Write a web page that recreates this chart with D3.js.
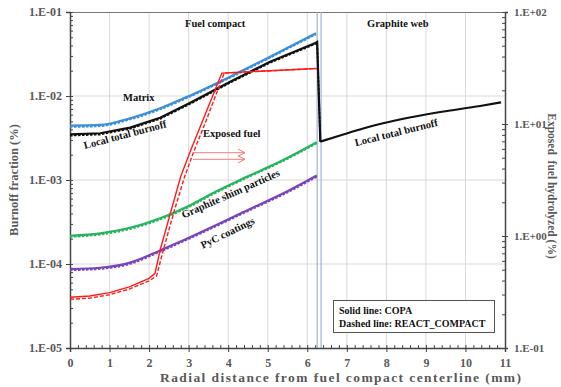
<!DOCTYPE html>
<html>
<head>
<meta charset="utf-8">
<script src="https://cdn.jsdelivr.net/npm/d3@7"></script>
<style>
  body { margin: 0; background: #fff; }
  text { font-family: "Liberation Serif", "Times New Roman", serif; font-weight: bold; }
</style>
</head>
<body>
<div id="chart"></div>
<script>
// radial positions (mm) and burnoff fractions
const xMatrix = [0, 0.76, 1.52, 2.28, 3.03, 4.05, 5.06, 6.22];
const matrixCopa  = [4.43e-3, 4.52e-3, 5.43e-3, 7.14e-3, 1.01e-2, 1.70e-2, 2.94e-2, 5.58e-2];
const matrixReact = [4.28e-3, 4.37e-3, 5.25e-3, 6.92e-3, 9.80e-3, 1.65e-2, 2.86e-2, 5.42e-2];

const xTotal = [0, 0.76, 1.52, 2.28, 3.03, 4.05, 5.06, 6.22, 6.25, 6.33];
const totalCopa  = [3.50e-3, 3.60e-3, 4.20e-3, 5.52e-3, 8.26e-3, 1.48e-2, 2.56e-2, 4.31e-2, 4.40e-2, 2.86e-3];
const totalReact = [3.38e-3, 3.48e-3, 4.07e-3, 5.35e-3, 8.02e-3, 1.44e-2, 2.49e-2, 4.20e-2, 4.28e-2, 2.86e-3];

const xWeb = [6.33, 6.83, 7.33, 7.84, 8.34, 9.36, 10.37, 10.9];
const webCopa = [2.86e-3, 3.39e-3, 3.99e-3, 4.64e-3, 5.25e-3, 6.45e-3, 7.60e-3, 8.41e-3];

const xShim = [0, 0.76, 1.52, 2.28, 3.0, 3.62, 4.47, 5.39, 6.24];
const shimCopa  = [2.17e-4, 2.32e-4, 2.70e-4, 3.50e-4, 4.90e-4, 7.00e-4, 1.09e-3, 1.73e-3, 2.82e-3];
const shimReact = [2.10e-4, 2.24e-4, 2.61e-4, 3.39e-4, 4.75e-4, 6.78e-4, 1.06e-3, 1.68e-3, 2.74e-3];

const xPyc = [0, 0.76, 1.52, 2.28, 2.78, 4.55, 5.56, 6.24];
const pycCopa  = [8.71e-5, 9.03e-5, 1.04e-4, 1.45e-4, 1.84e-4, 4.52e-4, 7.60e-4, 1.13e-3];
const pycReact = [8.42e-5, 8.73e-5, 1.00e-4, 1.40e-4, 1.78e-4, 4.37e-4, 7.35e-4, 1.09e-3];

// exposed fuel hydrolyzed (%) on the right axis
const xExpCopa  = [0, 0.5, 1, 1.5, 2, 2.15, 2.28, 2.55, 2.8, 3.05, 3.29, 3.84, 6.24];
const expCopa   = [0.284, 0.291, 0.312, 0.351, 0.419, 0.465, 0.75, 1.65, 3.4, 5.8, 9.4, 28.5, 31.3];
const xExpReact = [0, 0.5, 1, 1.5, 2, 2.19, 2.36, 2.63, 2.9, 3.14, 3.38, 3.9, 6.24];
const expReact  = [0.272, 0.279, 0.299, 0.336, 0.397, 0.44, 0.75, 1.65, 3.4, 5.8, 9.4, 28.5, 31.3];

const leftTicks = [1e-5, 1e-4, 1e-3, 1e-2, 1e-1];
const rightTicks = [0.1, 1, 10, 100];
const xTicks = d3.range(0, 12);
const boundaries = [6.25, 6.35];

const W = 561, H = 387;
const margin = {top: 12, right: 56, bottom: 39, left: 70};

const svg = d3.select("#chart").append("svg")
  .attr("width", W).attr("height", H);

const x = d3.scaleLinear().domain([0, 11]).range([margin.left, W - margin.right]);
const yL = d3.scaleLog().domain([1e-5, 1e-1]).range([H - margin.bottom, margin.top]);
const yR = d3.scaleLog().domain([0.1, 100]).range([H - margin.bottom, margin.top]);

const fmt = d => {
  const e = Math.round(Math.log10(d));
  return "1.E" + (e < 0 ? "-" : "+") + String(Math.abs(e)).padStart(2, "0");
};

const grey = "#595959";

// grid
svg.append("g").selectAll("line").data(xTicks.slice(1, -1)).join("line")
  .attr("x1", d => x(d)).attr("x2", d => x(d))
  .attr("y1", yL.range()[0]).attr("y2", yL.range()[1])
  .attr("stroke", "#d9d9d9").attr("stroke-width", 1);
svg.append("g").selectAll("line").data(leftTicks.slice(1, -1)).join("line")
  .attr("x1", x.range()[0]).attr("x2", x.range()[1])
  .attr("y1", d => yL(d)).attr("y2", d => yL(d))
  .attr("stroke", "#d9d9d9").attr("stroke-width", 1);

// frame top
svg.append("line")
  .attr("x1", x.range()[0]).attr("x2", x.range()[1])
  .attr("y1", margin.top + 0.5).attr("y2", margin.top + 0.5)
  .attr("stroke", "#777");

// fuel compact / graphite web boundary
svg.append("g").selectAll("line").data(boundaries).join("line")
  .attr("x1", d => x(d)).attr("x2", d => x(d))
  .attr("y1", yL.range()[0]).attr("y2", yL.range()[1])
  .attr("stroke", "#9fb3d8").attr("stroke-width", 1.2);

// axes
function styleAxis(size) {
  return g => {
    g.selectAll(".domain").attr("stroke", "#444").attr("stroke-width", 1.5);
    g.selectAll(".tick line").attr("stroke", "#444");
    g.selectAll(".tick text").attr("fill", grey)
      .style("font-family", "'Liberation Serif', serif").style("font-weight", "bold").style("font-size", size);
  };
}

svg.append("g").attr("transform", `translate(0,${H - margin.bottom})`)
  .call(d3.axisBottom(x).tickValues(x.ticks(55)).tickSize(-3).tickFormat(""))
  .call(g => g.select(".domain").remove())
  .selectAll("line").attr("stroke", "#444");
svg.append("g").attr("transform", `translate(0,${H - margin.bottom})`)
  .call(d3.axisBottom(x).tickValues(xTicks).tickSize(4).tickPadding(6).tickFormat(d3.format("d")))
  .call(styleAxis("12px"));

svg.append("g").attr("transform", `translate(${margin.left},0)`)
  .call(d3.axisLeft(yL).tickValues(yL.ticks()).tickSize(-3).tickFormat(""))
  .call(g => g.select(".domain").remove())
  .selectAll("line").attr("stroke", "#444");
svg.append("g").attr("transform", `translate(${margin.left},0)`)
  .call(d3.axisLeft(yL).tickValues(leftTicks).tickSize(4).tickPadding(4).tickFormat(fmt))
  .call(styleAxis("12px"));

svg.append("g").attr("transform", `translate(${W - margin.right},0)`)
  .call(d3.axisRight(yR).tickValues(yR.ticks()).tickSize(-3).tickFormat(""))
  .call(g => g.select(".domain").remove())
  .selectAll("line").attr("stroke", "#444");
svg.append("g").attr("transform", `translate(${W - margin.right},0)`)
  .call(d3.axisRight(yR).tickValues(rightTicks).tickSize(3).tickPadding(6).tickFormat(fmt))
  .call(styleAxis("11px"));

// axis titles
svg.append("text")
  .attr("transform", `translate(14,${(margin.top + H - margin.bottom) / 2}) rotate(-90)`)
  .attr("text-anchor", "middle").attr("dominant-baseline", "central")
  .attr("fill", grey).style("font-size", "12.5px")
  .text("Burnoff fraction (%)");
svg.append("text")
  .attr("transform", `translate(552,186) rotate(90)`)
  .attr("text-anchor", "middle").attr("dominant-baseline", "central")
  .attr("fill", grey).style("font-size", "11.5px")
  .style("white-space", "pre")
  .text("Exposed  fuel hydrolyzed (%)");
svg.append("text")
  .attr("x", 160).attr("y", 382)
  .attr("textLength", 361).attr("lengthAdjust", "spacing")
  .attr("fill", grey).style("font-size", "13.5px")
  .text("Radial distance from fuel compact centerline (mm)");

// lines
const lineL = (xs) => d3.line()
  .x((d, i) => x(xs[i])).y(d => yL(d))
  .curve(d3.curveMonotoneX);
const lineLStraight = (xs) => d3.line()
  .x((d, i) => x(xs[i])).y(d => yL(d));
const lineR = (xs) => d3.line()
  .x((d, i) => x(xs[i])).y(d => yR(d));

const plot = svg.append("g");

function drawPair(xs, solid, dashed, color, lineGen) {
  plot.append("path").attr("d", lineGen(xs)(solid))
    .attr("fill", "none").attr("stroke", color).attr("stroke-width", 2.2);
  if (dashed) {
    plot.append("path").attr("d", lineGen(xs)(dashed))
      .attr("fill", "none").attr("stroke", color).attr("stroke-width", 1.8)
      .attr("stroke-dasharray", "2.5,1.5");
  }
}

drawPair(xMatrix, matrixCopa, matrixReact, "#3a8fd6", lineL);
drawPair(xShim, shimCopa, shimReact, "#27b45e", lineL);
drawPair(xPyc, pycCopa, pycReact, "#7a45b8", lineL);
drawPair(xTotal, totalCopa, totalReact, "#111", lineLStraight);
drawPair(xWeb, webCopa, null, "#111", lineL);

plot.append("path").attr("d", lineR(xExpCopa)(expCopa))
  .attr("fill", "none").attr("stroke", "#ff1a1a").attr("stroke-width", 1.4);
plot.append("path").attr("d", lineR(xExpReact)(expReact))
  .attr("fill", "none").attr("stroke", "#ff1a1a").attr("stroke-width", 1.4)
  .attr("stroke-dasharray", "4,2");

// arrows pointing toward the right axis
[152.7, 159.3].forEach(yy => {
  const g = plot.append("g").attr("stroke", "#f47c7c").attr("stroke-width", 1).attr("fill", "none");
  g.append("line").attr("x1", 193).attr("x2", 245).attr("y1", yy).attr("y2", yy);
  g.append("path").attr("d", `M238,${yy - 3.5} L245,${yy} L238,${yy + 3.5}`);
});

// annotations
const ann = [
  {t: "Fuel compact", x: 185, y: 27},
  {t: "Graphite web", x: 367, y: 27},
  {t: "Matrix", x: 123, y: 101},
  {t: "Exposed fuel", x: 203, y: 137},
];
ann.forEach(a => svg.append("text").attr("x", a.x).attr("y", a.y)
  .attr("fill", "#111").style("font-size", "10.5px").text(a.t));

const rot = [
  {t: "Local total burnoff", x: 126, y: 138, r: -15},
  {t: "Local total burnoff", x: 397, y: 136, r: -14},
  {t: "Graphite shim particles", x: 232, y: 197, r: -24},
  {t: "PyC coatings", x: 229, y: 236, r: -26},
];
rot.forEach(a => svg.append("text")
  .attr("transform", `translate(${a.x},${a.y}) rotate(${a.r})`)
  .attr("text-anchor", "middle")
  .attr("fill", "#111").style("font-size", "10.5px").text(a.t));

// legend box
svg.append("rect").attr("x", 333.5).attr("y", 300.5).attr("width", 161).attr("height", 32)
  .attr("fill", "#fff").attr("stroke", "#555").attr("stroke-width", 1);
svg.append("text").attr("x", 339).attr("y", 313.5).attr("fill", "#111")
  .style("font-size", "10px").text("Solid line: COPA");
svg.append("text").attr("x", 339).attr("y", 327).attr("fill", "#111")
  .style("font-size", "10px").text("Dashed line: REACT_COMPACT");
</script>
</body>
</html>
